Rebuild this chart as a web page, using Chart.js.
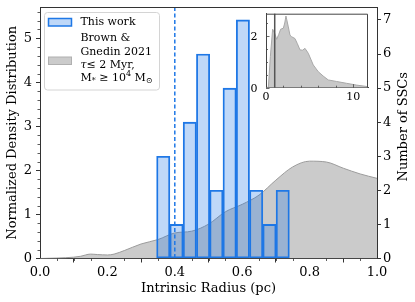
<!DOCTYPE html>
<html><head><meta charset="utf-8">
<script src="https://cdn.jsdelivr.net/npm/chart.js@4.4.1/dist/chart.umd.min.js"></script>
<style>
html,body{margin:0;padding:0;background:#fff;}
#wrap{position:relative;width:415px;height:302px;overflow:hidden;}
#main{position:absolute;left:0;top:0;}
#inset{position:absolute;left:244px;top:8px;}
</style></head><body>
<div id="wrap"><canvas id="main" width="415" height="302"></canvas><canvas id="inset" width="130" height="100"></canvas></div>
<script>
// ---- data ----
const binCenters = [0.3657, 0.4051, 0.4445, 0.4839, 0.5233, 0.5627, 0.6021, 0.6415, 0.6809, 0.7203];
const sscCounts  = [3, 1, 4, 6, 2, 5, 7, 2, 1, 2];
const kdeRadius  = [0, 0.05, 0.1, 0.12, 0.15, 0.17, 0.2, 0.22, 0.25, 0.3, 0.35, 0.4, 0.45, 0.5, 0.55, 0.6, 0.65, 0.7, 0.75, 0.8, 0.85, 0.9, 0.95, 1.0];
const kdeDensity = [0, 0.01, 0.03, 0.05, 0.1, 0.09, 0.08, 0.1, 0.18, 0.33, 0.43, 0.58, 0.62, 0.78, 1.06, 1.23, 1.44, 1.78, 2.08, 2.21, 2.19, 2.05, 1.92, 1.82];
const insetRadius  = [0, 0.27, 0.5, 0.76, 1.0, 1.22, 1.45, 1.68, 1.99, 2.15, 2.29, 2.56, 2.75, 2.94, 3.32, 3.6, 3.9, 4.2, 4.47, 4.85, 5.42, 5.99, 6.56, 7.14, 8.1, 9.24, 10.4, 11.7];
const insetDensity = [0, 0.02, 1.2, 2.26, 2.1, 1.87, 2.05, 2.26, 2.3, 2.5, 2.77, 2.35, 2.03, 1.97, 1.9, 1.7, 1.46, 1.45, 1.52, 1.33, 0.88, 0.62, 0.45, 0.3, 0.24, 0.17, 0.1, 0.04];
const medianRadius = [0.4];
const insetMarker  = [1];
const xTicks       = [0, 0.2, 0.4, 0.6, 0.8, 1.0];
const xMinorTicks  = [0.05,0.1,0.15,0.25,0.3,0.35,0.45,0.5,0.55,0.65,0.7,0.75,0.85,0.9,0.95];
const densityTicks = [0, 1, 2, 3, 4, 5];
const densityMinor = [0.2,0.4,0.6,0.8,1.2,1.4,1.6,1.8,2.2,2.4,2.6,2.8,3.2,3.4,3.6,3.8,4.2,4.4,4.6,4.8,5.2,5.4,5.6];
const countTicks   = [0, 1, 2, 3, 4, 5, 6, 7];
const insetXTicks  = [0, 10];
const insetXMinor  = [2, 4, 6, 8];
const insetYTicks  = [0, 2];
const insetYMinor  = [0.5, 1, 1.5, 2.5];
const xTitle = 'Intrinsic Radius (pc)';
const yTitle = 'Normalized Density Distribution';
const y2Title = 'Number of SSCs';
const legendThis = 'This work';
const legendBrown = ['Brown &', 'Gnedin 2021'];

Chart.defaults.font.family = "'DejaVu Serif', serif";
Chart.defaults.color = '#000';

const FF = "'DejaVu Serif', serif";
const BLUE = '#1f78e6';
const BAR_FILL = 'rgba(20,110,230,0.27)';
const GRAY_FILL = '#cbcbcb';
const GRAY_EDGE = '#9c9c9c';

function zeroPad(s){ s.paddingTop = 0; s.paddingBottom = 0; s.paddingLeft = 0; s.paddingRight = 0; }
function setTicks(arr){ return s => { s.ticks = arr.map(v => ({value: v})); }; }

function drawRuns(ctx, runs, x, y) {
  for (const r of runs) {
    ctx.font = (r.italic ? 'italic ' : '') + (r.size || 11) + 'px ' + FF;
    ctx.fillText(r.t, x, y + (r.dy || 0));
    x += ctx.measureText(r.t).width;
  }
}

const mainDecor = {
  id: 'mainDecor',
  afterDatasetsDraw(chart) {
    const {ctx, chartArea: a, scales} = chart;
    ctx.save();
    ctx.strokeStyle = BLUE; ctx.lineWidth = 1.5; ctx.setLineDash([4, 2.5]);
    medianRadius.forEach(v => {
      const px = scales.x.getPixelForValue(v);
      ctx.beginPath(); ctx.moveTo(px, a.top); ctx.lineTo(px, a.bottom); ctx.stroke();
    });
    ctx.restore();
  },
  afterDraw(chart) {
    const {ctx, chartArea: a, scales} = chart;
    ctx.save();
    ctx.strokeStyle = '#333'; ctx.lineWidth = 1;
    ctx.beginPath(); ctx.moveTo(a.left, a.top + 0.5); ctx.lineTo(a.right, a.top + 0.5); ctx.stroke();
    ctx.lineWidth = 0.8;
    xMinorTicks.forEach(v => { const p = Math.round(scales.x.getPixelForValue(v)) + 0.5; ctx.beginPath(); ctx.moveTo(p, a.bottom); ctx.lineTo(p, a.bottom + 2.5); ctx.stroke(); });
    densityMinor.forEach(v => { const p = Math.round(scales.y.getPixelForValue(v)) + 0.5; ctx.beginPath(); ctx.moveTo(a.left, p); ctx.lineTo(a.left - 2.5, p); ctx.stroke(); });
    ctx.fillStyle = '#000';
    ctx.font = '13px ' + FF; ctx.textAlign = 'center'; ctx.textBaseline = 'middle';
    ctx.fillText(xTitle, (a.left + a.right) / 2, 289);
    const cy = (a.top + a.bottom) / 2;
    ctx.save(); ctx.translate(13, cy); ctx.rotate(-Math.PI / 2); ctx.fillText(yTitle, 0, 0); ctx.restore();
    ctx.save(); ctx.translate(404, cy - 6); ctx.rotate(-Math.PI / 2); ctx.fillText(y2Title, 0, 0); ctx.restore();
    ctx.beginPath();
    ctx.roundRect(44.5, 12.5, 115, 77.5, 3);
    ctx.fillStyle = 'rgba(255,255,255,0.85)'; ctx.fill();
    ctx.strokeStyle = '#d4d4d4'; ctx.lineWidth = 1; ctx.stroke();
    ctx.fillStyle = BAR_FILL; ctx.fillRect(48.5, 18.5, 23, 7.5);
    ctx.strokeStyle = BLUE; ctx.lineWidth = 1.5; ctx.strokeRect(48.5, 18.5, 23, 7.5);
    ctx.fillStyle = GRAY_FILL; ctx.fillRect(48.5, 57, 23, 7.5);
    ctx.strokeStyle = '#b0b0b0'; ctx.lineWidth = 1; ctx.strokeRect(48.5, 57, 23, 7.5);
    ctx.fillStyle = '#000'; ctx.textAlign = 'left'; ctx.textBaseline = 'middle';
    ctx.font = '11px ' + FF;
    ctx.fillText(legendThis, 80.5, 22);
    ctx.fillText(legendBrown[0], 80.5, 38.5);
    ctx.fillText(legendBrown[1], 80.5, 51.8);
    drawRuns(ctx, [{t: 'τ', italic: true}, {t: '≤ 2 Myr,'}], 80.5, 65);
    drawRuns(ctx, [{t: 'M'}, {t: '*', size: 8, dy: 3}, {t: ' ≥ 10'}, {t: '4', size: 8, dy: -4}, {t: ' M'}, {t: '⊙', size: 8, dy: 3}], 80.5, 78.3);
    ctx.restore();
  }
};

const axisCommon = {
  grid: {drawOnChartArea: false, drawTicks: true, tickLength: 4, color: '#333', lineWidth: 1},
  border: {display: true, color: '#333', width: 1}
};

new Chart(document.getElementById('main'), {
  type: 'bar',
  data: {
    datasets: [
      {type: 'bar', label: 'This work', yAxisID: 'y2', order: 0,
       data: binCenters.map((x, i) => ({x: x, y: sscCounts[i]})),
       backgroundColor: BAR_FILL, borderColor: BLUE, borderWidth: 1.2, borderSkipped: false,
       barPercentage: 1, categoryPercentage: 1},
      {type: 'line', label: 'Brown & Gnedin 2021', yAxisID: 'y', order: 1,
       data: kdeRadius.map((x, i) => ({x: x, y: kdeDensity[i]})),
       borderColor: GRAY_EDGE, borderWidth: 1, backgroundColor: GRAY_FILL, fill: 'origin',
       pointRadius: 0, cubicInterpolationMode: 'monotone'}
    ]
  },
  options: {
    responsive: false, animation: false, devicePixelRatio: 1,
    layout: {padding: {top: 7, left: 0, right: 0, bottom: 0}},
    plugins: {legend: {display: false}, tooltip: {enabled: false}},
    scales: {
      x: Object.assign({}, axisCommon, {
        type: 'linear', min: 0, max: 1, offset: false,
        afterBuildTicks: setTicks(xTicks),
        ticks: {font: {size: 13}, padding: 2, maxRotation: 0, autoSkip: false, callback: v => v.toFixed(1)},
        afterFit(s) { s.height = 43.5; zeroPad(s); }
      }),
      y: Object.assign({}, axisCommon, {
        position: 'left', min: 0, max: 5.71,
        afterBuildTicks: setTicks(densityTicks),
        ticks: {font: {size: 13}, padding: 4, autoSkip: false, callback: v => String(v)},
        afterFit(s) { s.width = 40; zeroPad(s); }
      }),
      y2: Object.assign({}, axisCommon, {
        position: 'right', min: 0, max: 7.38,
        afterBuildTicks: setTicks(countTicks),
        ticks: {font: {size: 13}, padding: 2, autoSkip: false, callback: v => String(v)},
        afterFit(s) { s.width = 38; zeroPad(s); }
      })
    }
  },
  plugins: [mainDecor]
});

// ---- inset ----
const insetDecor = {
  id: 'insetDecor',
  afterDraw(chart) {
    const {ctx, chartArea: a, scales} = chart;
    ctx.save();
    ctx.strokeStyle = '#555'; ctx.lineWidth = 1.5;
    insetMarker.forEach(v => {
      const px = scales.x.getPixelForValue(v);
      ctx.beginPath(); ctx.moveTo(px, a.top); ctx.lineTo(px, a.bottom); ctx.stroke();
    });
    ctx.strokeStyle = '#444'; ctx.lineWidth = 1;
    ctx.beginPath(); ctx.moveTo(a.left, a.top + 0.5); ctx.lineTo(a.right - 0.5, a.top + 0.5); ctx.lineTo(a.right - 0.5, a.bottom); ctx.stroke();
    ctx.lineWidth = 0.8;
    insetXTicks.forEach(v => { const p = Math.round(scales.x.getPixelForValue(v)) + 0.5; ctx.beginPath(); ctx.moveTo(p, a.bottom); ctx.lineTo(p, a.bottom - 3.5); ctx.stroke(); });
    insetXMinor.forEach(v => { const p = Math.round(scales.x.getPixelForValue(v)) + 0.5; ctx.beginPath(); ctx.moveTo(p, a.bottom); ctx.lineTo(p, a.bottom - 2); ctx.stroke(); });
    insetYTicks.forEach(v => { const p = Math.round(scales.y.getPixelForValue(v)) + 0.5; ctx.beginPath(); ctx.moveTo(a.left, p); ctx.lineTo(a.left + 3.5, p); ctx.stroke(); });
    insetYMinor.forEach(v => { const p = Math.round(scales.y.getPixelForValue(v)) + 0.5; ctx.beginPath(); ctx.moveTo(a.left, p); ctx.lineTo(a.left + 2, p); ctx.stroke(); });
    // y tick labels placed with the inset's y scale
    ctx.fillStyle = '#000'; ctx.font = '11px ' + FF; ctx.textAlign = 'right'; ctx.textBaseline = 'middle';
    insetYTicks.forEach(v => { ctx.fillText(String(v), a.left - 8.5, scales.y.getPixelForValue(v) + 1); });
    ctx.restore();
  }
};

new Chart(document.getElementById('inset'), {
  type: 'line',
  data: {
    datasets: [{
      data: insetRadius.map((x, i) => ({x: x, y: insetDensity[i]})),
      borderColor: '#a8a8a8', borderWidth: 1, backgroundColor: '#c8c8c8', fill: 'origin',
      pointRadius: 0, tension: 0
    }]
  },
  options: {
    responsive: false, animation: false, devicePixelRatio: 1,
    layout: {padding: {top: 5.7, right: 6, left: 0, bottom: 0}},
    plugins: {legend: {display: false}, tooltip: {enabled: false}},
    scales: {
      x: {type: 'linear', min: 0, max: 11.7,
          afterBuildTicks: setTicks(insetXTicks),
          ticks: {font: {size: 11}, padding: 3, maxRotation: 0, autoSkip: false, callback: v => String(v)},
          grid: {display: false, drawTicks: false}, border: {display: true, color: '#444', width: 1},
          afterFit(s) { s.height = 20.3; zeroPad(s); }},
      y: {min: 0, max: 2.86,
          afterBuildTicks: setTicks(insetYTicks),
          ticks: {display: false},
          grid: {display: false, drawTicks: false}, border: {display: true, color: '#444', width: 1},
          afterFit(s) { s.width = 22; zeroPad(s); }}
    }
  },
  plugins: [insetDecor]
});
</script>
</body></html>
